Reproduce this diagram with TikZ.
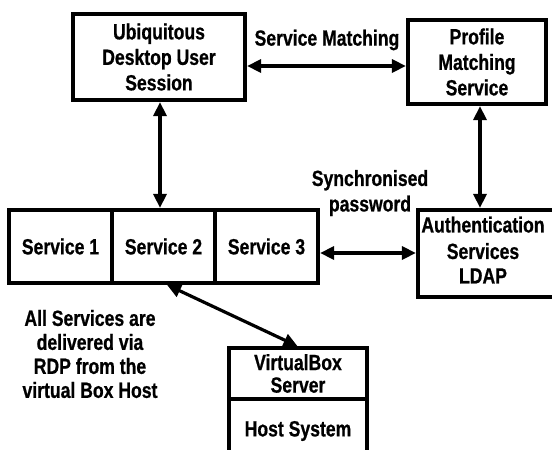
\documentclass[tikz,border=0pt]{standalone}
\usepackage{fontspec}
\setmainfont{Liberation Sans}[FakeStretch=0.8, BoldFeatures={FakeBold=0.7}]
\usetikzlibrary{arrows.meta}
\tikzset{
  box/.style={draw, line width=3.2pt, inner sep=0pt, align=center},
  lbl/.style={align=center, inner sep=0pt},
  arr/.style={line width=3.2pt, {Triangle[length=14pt,width=13pt]}-{Triangle[length=14pt,width=13pt]}, shorten <=0.5pt, shorten >=0.5pt}
}
\begin{document}
\begin{tikzpicture}[x=1pt, y=-1pt, font=\bfseries\fontsize{22}{25.5}\selectfont]
  \useasboundingbox (0,0) rectangle (552,450);
  \clip (0,0) rectangle (552,450);

  % top row
  \node[box, minimum width=172pt, minimum height=86pt] (ubi) at (159,57) {Ubiquitous\\Desktop User\\Session};
  \node[box, minimum width=138pt, minimum height=84pt] (prof) at (477,62) {Profile\\Matching\\Service};

  % service strip
  \node[box, minimum width=103pt, minimum height=73pt] (s1) at (60.5,246.5) {Service 1};
  \node[box, minimum width=103pt, minimum height=73pt] (s2) at (163.5,246.5) {Service 2};
  \node[box, minimum width=103pt, minimum height=73pt] (s3) at (266.5,246.5) {Service 3};

  % authentication server (runs off the right edge)
  \node[box, minimum width=140pt, minimum height=87pt] (auth) at (488,253.5) {};
  \node[lbl] (authtxt) at (483,250) {Authentication\\[1pt]Services\\[-1pt]LDAP};

  % virtualisation host
  \node[box, minimum width=138pt, minimum height=51pt] (vb) at (298,373.5) {VirtualBox\\[-3pt]Server};
  \node[box, minimum width=138pt, minimum height=64pt] (host) at (298,431) {Host System};

  % connections
  \draw[arr] ([yshift=-9pt]ubi.east) -- ([yshift=-9pt]ubi.east -| prof.west);
  \draw[arr] ([xshift=1pt]ubi.south) -- ([xshift=1pt]ubi.south |- s2.north);
  \draw[arr] ([xshift=3pt]prof.south) -- ([xshift=3pt]prof.south |- auth.north);
  \draw[arr] ([yshift=-6.5pt]s3.east) -- ([yshift=-6.5pt]s3.east -| auth.west);
  \draw[arr] ([xshift=3pt]s2.south) -- (vb.north);

  % labels
  \node[lbl] (svcmatch) at (327,40) {Service Matching};
  \node[lbl] (sync) at (370,193) {Synchronised\\password};
  \node[lbl] (rdp) at (90,354) {All Services are\\[-1.5pt]delivered via\\[-1.5pt]RDP from the\\[-1.5pt]virtual Box Host};
\end{tikzpicture}
\end{document}
